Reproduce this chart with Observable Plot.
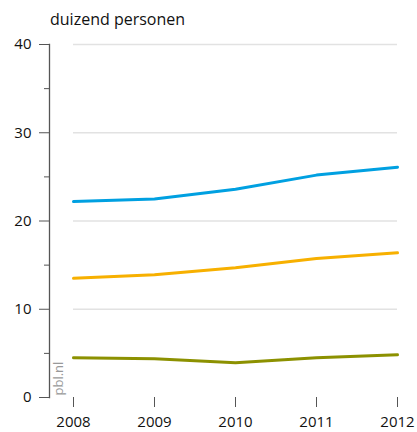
<!DOCTYPE html>
<html>
<head>
<meta charset="utf-8">
<script src="https://cdn.jsdelivr.net/npm/d3@7"></script>
<script src="https://cdn.jsdelivr.net/npm/@observablehq/plot@0.6"></script>
<style>
  html, body { margin: 0; padding: 0; background: #fff; }
  #title { font-family: "Open Sans", sans-serif; font-size: 16px; color: #111; height: 28px; line-height: 20px; padding-left: 50px; padding-top: 9px; box-sizing: border-box; }
</style>
</head>
<body>
<div id="title">duizend personen</div>
<div id="chart"></div>
<script>
const years = [2008, 2009, 2010, 2011, 2012];
const seriesBlue = [22.2, 22.5, 23.6, 25.2, 26.1];
const seriesOrange = [13.5, 13.9, 14.7, 15.75, 16.4];
const seriesGreen = [4.5, 4.4, 3.95, 4.5, 4.85];
const yMajor = [0, 10, 20, 30, 40];
const yMinor = [5, 15, 25, 35];
const yGrid = [10, 20, 30, 40];

const seriesNames = ["reeks A", "reeks B", "reeks C"];
const seriesColors = ["#00a0e1", "#f7b000", "#8c9100"];
const toRows = (vals, key) => years.map((y, i) => ({year: y, value: vals[i], key}));
const data = [
  ...toRows(seriesBlue, seriesNames[0]),
  ...toRows(seriesOrange, seriesNames[1]),
  ...toRows(seriesGreen, seriesNames[2])
];

const chart = Plot.plot({
  width: 417,
  height: 404,
  marginTop: 16,
  marginBottom: 35,
  marginLeft: 49,
  marginRight: 20,
  style: {fontFamily: "Open Sans, sans-serif", fontSize: "15px", color: "#111"},
  x: {domain: [2008, 2012], insetLeft: 24},
  y: {domain: [0, 40]},
  color: {domain: seriesNames, range: seriesColors},
  marks: [
    Plot.ruleY(yGrid, {x1: 2008, x2: 2012, stroke: "#e2e2e2", strokeWidth: 1.5}),
    Plot.frame({anchor: "left", stroke: "#555", strokeWidth: 1.3}),
    Plot.axisY(yMajor, {tickSize: 10, tickPadding: 8, stroke: "#555", fill: "#111", label: null, fontSize: 15}),
    Plot.axisY(yMinor, {tickSize: 5, text: null, stroke: "#555", label: null}),
    Plot.axisX(years, {tickSize: 10, tickPadding: 9, stroke: "#555", fill: "#111", tickFormat: d => String(d), label: null, fontSize: 15}),
    Plot.line(data, {x: "year", y: "value", z: "key", stroke: "key", strokeWidth: 3}),
    Plot.text(["pbl.nl"], {frameAnchor: "bottom-left", dx: 13, dy: -2, rotate: -90, textAnchor: "start", fill: "#999", fontSize: 13})
  ]
});
document.getElementById("chart").appendChild(chart);
</script>
</body>
</html>
